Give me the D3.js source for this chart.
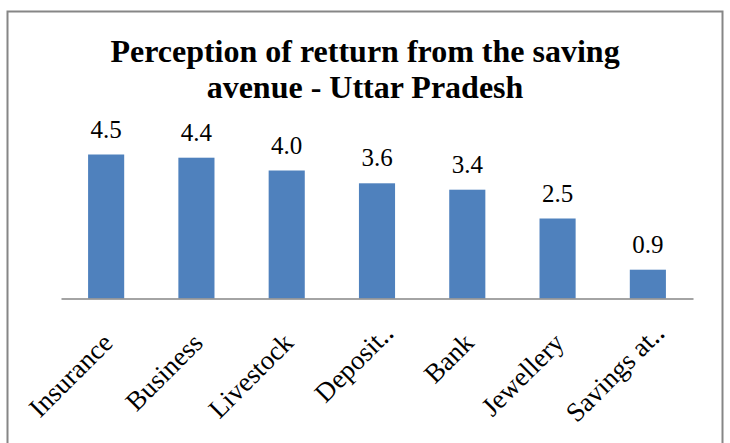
<!DOCTYPE html>
<html>
<head>
<meta charset="utf-8">
<script src="https://cdn.jsdelivr.net/npm/d3@7"></script>
<style>
  html, body { margin: 0; padding: 0; background: #fff; }
  svg { display: block; }
</style>
</head>
<body>
<svg id="chart" width="730" height="443"></svg>
<script>
// saving avenues and perceived return
const categories = ['Insurance', 'Business', 'Livestock', 'Deposit‥', 'Bank', 'Jewellery', 'Savings at‥']
const values = [4.5, 4.4, 4.0, 3.6, 3.4, 2.5, 0.9]
const titleLines = ['Perception of retturn from the saving', 'avenue - Uttar Pradesh']

const svg = d3.select('#chart')
const serif = '"Liberation Serif", "Times New Roman", serif'
const barColor = '#4f81bd'
const axisY = 298.5

// chart frame
svg.append('rect')
  .attr('x', 7.5)
  .attr('y', 11.5)
  .attr('width', 715)
  .attr('height', 460)
  .attr('fill', '#fff')
  .attr('stroke', '#868686')
  .attr('stroke-width', 2)

svg.append('g')
  .selectAll('text')
  .data(titleLines)
  .join('text')
  .text(d => d)
  .attr('x', 365)
  .attr('y', (d, i) => 62 + i * 36)
  .attr('text-anchor', 'middle')
  .style('font-family', serif)
  .style('font-weight', 'bold')
  .style('font-size', '32px')
  .attr('fill', '#000')

let x = d3.scaleBand()
  .domain(categories)
  .range([61, 693])
  .paddingInner(0.6)
  .paddingOuter(0.3)

let y = d3.scaleLinear()
  .domain([0, 5])
  .range([axisY, axisY - 160])

svg.append('g')
  .selectAll('rect')
  .data(values)
  .join('rect')
  .attr('x', (d, i) => x(categories[i]))
  .attr('y', d => y(d))
  .attr('width', x.bandwidth())
  .attr('height', d => y(0) - y(d))
  .attr('fill', barColor)

svg.append('g')
  .selectAll('text')
  .data(values)
  .join('text')
  .text(d => d3.format('.1f')(d))
  .attr('x', (d, i) => x(categories[i]) + x.bandwidth() / 2)
  .attr('y', d => y(d) - 17)
  .attr('text-anchor', 'middle')
  .style('font-family', serif)
  .style('font-size', '25px')
  .attr('fill', '#000')

// category axis
let xAxis = svg.append('g')
  .attr('transform', 'translate(0,' + axisY + ')')
  .call(d3.axisBottom(x).tickSize(0).tickSizeOuter(0).tickPadding(0))
xAxis.select('.domain')
  .attr('stroke', '#868686')
  .attr('stroke-width', 1.5)
xAxis.selectAll('.tick text')
  .attr('x', 0)
  .attr('y', 0)
  .attr('dy', 0)
  .attr('dx', d => d.endsWith('‥') ? 14 : 0)
  .attr('text-anchor', 'end')
  .attr('transform', 'translate(8,46) rotate(-45)')
  .style('font-family', serif)
  .style('font-size', '27px')
  .attr('fill', '#000')
</script>
</body>
</html>
